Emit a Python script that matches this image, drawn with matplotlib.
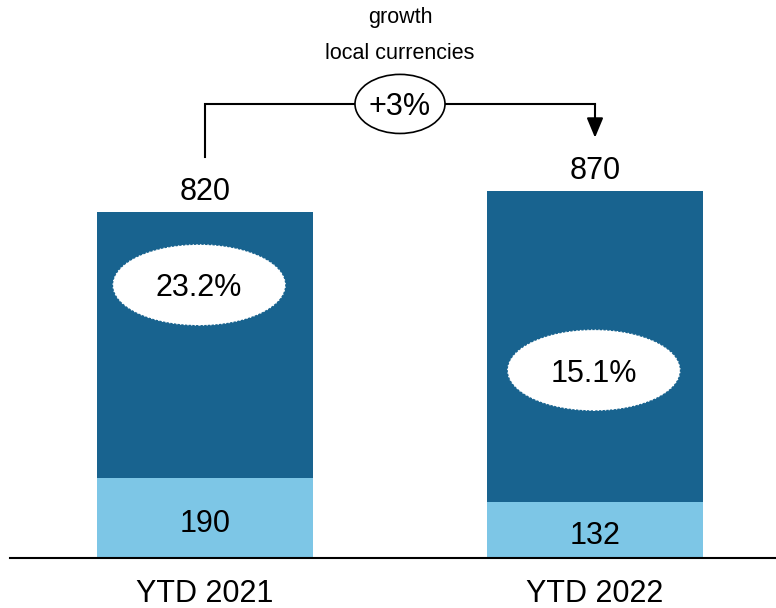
import matplotlib.pyplot as plt
from matplotlib.patches import Ellipse

plt.rcParams["font.family"] = ["Liberation Sans", "DejaVu Sans"]

# Year-to-date totals with the lower (light) segment shown separately
periods = ["YTD 2021", "YTD 2022"]
totals = [820, 870]
lower = [190, 132]
margins = ["23.2%", "15.1%"]
growth_label = "+3%"

dark_blue = "#18638f"
light_blue = "#7dc6e6"

fig = plt.figure(figsize=(7.76, 6.08), dpi=100)
ax = fig.add_axes([0, 0, 1, 1])
ax.set_xlim(-0.5256, 1.4641)
ax.set_ylim(-118.5, 1322.3)
ax.axis("off")

x = list(range(len(periods)))
width = 0.554
upper = [t - l for t, l in zip(totals, lower)]

ax.bar(x, lower, width=width, color=light_blue, zorder=2)
ax.bar(x, upper, width=width, bottom=lower, color=dark_blue, zorder=2)

# baseline
ax.axhline(0, xmin=0.013, xmax=1, color="black", lw=1.5, zorder=3)

big = 22
for xi, t, l in zip(x, totals, lower):
    ax.annotate(str(t), (xi, t), xytext=(0, 8.6), textcoords="offset points",
                ha="center", va="baseline", fontsize=big)
    ax.annotate(str(l), (xi, l / 2), xytext=(0, -2), textcoords="offset points",
                ha="center", va="center_baseline", fontsize=big, zorder=4)
    ax.text(xi, -104, periods[xi], ha="center", va="baseline", fontsize=big)

# white ovals carrying the margin labels
oval_pos = [(-0.015, 647), (0.997, 445)]
for (ox, oy), p in zip(oval_pos, margins):
    ax.add_patch(Ellipse((ox, oy), 0.441, 190, facecolor="white",
                         edgecolor="white", lw=1, ls=":", zorder=3))
    ax.text(ox, oy, p, ha="center", va="center_baseline", fontsize=big, zorder=4)

# growth connector between the two bars
ax.plot([0, 0, 1], [950, 1076, 1076], color="black", lw=1.5,
        solid_joinstyle="miter", zorder=3)
ax.annotate("", xy=(1, 996), xytext=(1, 1076),
            arrowprops=dict(arrowstyle="-|>,head_length=0.6,head_width=0.25",
                            lw=1.5, color="black", mutation_scale=20,
                            shrinkA=0, shrinkB=0), zorder=3)
ax.add_patch(Ellipse((0.5, 1076), 0.2308, 140, facecolor="white",
                     edgecolor="black", lw=1.2, zorder=4))
ax.text(0.5, 1050, growth_label, ha="center", va="baseline", fontsize=big, zorder=5)

ax.text(0.5, 1268, "growth", ha="center", va="baseline", fontsize=15.5)
ax.text(0.5, 1182, "local currencies", ha="center", va="baseline", fontsize=15.5)

fig.savefig("out.png", dpi=100)
